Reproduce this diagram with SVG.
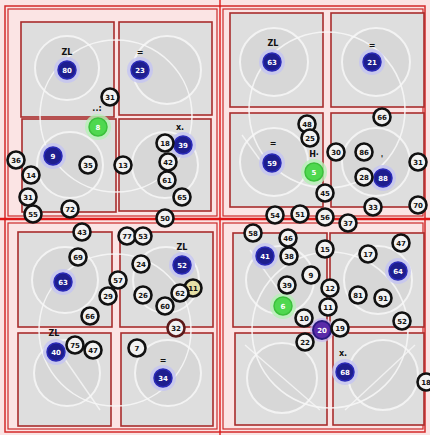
<svg xmlns="http://www.w3.org/2000/svg" width="430" height="435" viewBox="0 0 430 435">
<style>
.frame{fill:none;stroke:#d42a2a;stroke-width:1.5}
.quad{fill:none;stroke:#cc2a2a;stroke-width:1.2}
.cell{fill:#dedede;stroke:#a82c2c;stroke-width:1.6}
.ring{fill:#d7d7d7;stroke:#f6f6f6;stroke-width:2;opacity:.9}
.big{fill:none;stroke:#f8f8f8;stroke-width:1.6;opacity:.85}
.wl{fill:none;stroke:#f8f8f8;stroke-width:1.4;opacity:.8}
.b circle{fill:#f2f2f2;stroke:#111;stroke-width:2.6}
.bl .h{fill:#c4c4f2;opacity:.8}
.bl .c{fill:#1e1e8e;stroke:#2a2ab8;stroke-width:1.5}
.gr .h{fill:#b6f0b6;opacity:.8}
.gr .c{fill:#4fd84f;stroke:#3cc03c;stroke-width:1.5}
.pu .c{fill:#5a2aa8;stroke:#2a1a80;stroke-width:2}
.pu .h{fill:#c8b8f0;opacity:.7}
.b text{fill:#111;font:bold 7px "DejaVu Sans",sans-serif;text-anchor:middle}
.bl text,.gr text,.pu text{fill:#fff;font:bold 7px "DejaVu Sans",sans-serif;text-anchor:middle}
.lab{fill:#111;font:bold 8px "DejaVu Sans",sans-serif;text-anchor:middle}
</style>
<rect x="0" y="0" width="430" height="435" fill="#fbe4e4"/>
<rect class="frame" x="5" y="6" width="420" height="426"/>
<g id="quadrants">
<rect class="quad" x="8" y="9" width="209" height="207"/>
<rect class="quad" x="223" y="9" width="200" height="207"/>
<rect class="quad" x="8" y="223" width="209" height="206"/>
<rect class="quad" x="223" y="223" width="200" height="206"/>
<line x1="0" y1="219" x2="430" y2="219" stroke="#e01818" stroke-width="2.4"/>
<line x1="220" y1="0" x2="220" y2="435" stroke="#e01818" stroke-width="1.4"/>
</g>
<g id="cells">
<rect class="cell" x="21" y="22" width="93" height="95"/>
<rect class="cell" x="119" y="22" width="93" height="93"/>
<rect class="cell" x="22" y="119" width="94" height="93"/>
<rect class="cell" x="119" y="119" width="92" height="92"/>
<rect class="cell" x="230" y="13" width="93" height="94"/>
<rect class="cell" x="331" y="13" width="93" height="94"/>
<rect class="cell" x="230" y="113" width="93" height="94"/>
<rect class="cell" x="331" y="113" width="93" height="94"/>
<rect class="cell" x="18" y="232" width="94" height="95"/>
<rect class="cell" x="120" y="232" width="93" height="95"/>
<rect class="cell" x="18" y="333" width="93" height="93"/>
<rect class="cell" x="121" y="333" width="92" height="93"/>
<rect class="cell" x="233" y="233" width="94" height="94"/>
<rect class="cell" x="330" y="233" width="94" height="94"/>
<rect class="cell" x="235" y="333" width="92" height="92"/>
<rect class="cell" x="333" y="333" width="91" height="92"/>
</g>
<g id="rings">
<circle class="ring" cx="67" cy="68" r="32"/>
<circle class="ring" cx="167" cy="70" r="34"/>
<circle class="ring" cx="70" cy="165" r="33"/>
<circle class="ring" cx="165" cy="165" r="33"/>
<circle class="ring" cx="274" cy="62" r="34"/>
<circle class="ring" cx="376" cy="62" r="34"/>
<circle class="ring" cx="274" cy="162" r="34"/>
<circle class="ring" cx="376" cy="162" r="34"/>
<circle class="ring" cx="65" cy="280" r="33"/>
<circle class="ring" cx="166" cy="280" r="33"/>
<circle class="ring" cx="67" cy="373" r="33"/>
<circle class="ring" cx="168" cy="373" r="33"/>
<circle class="ring" cx="280" cy="280" r="34"/>
<circle class="ring" cx="378" cy="280" r="34"/>
<circle class="ring" cx="282" cy="378" r="35"/>
<circle class="ring" cx="383" cy="375" r="35"/>
<circle class="big" cx="116" cy="116" r="76"/>
<circle class="big" cx="327" cy="110" r="78"/>
<circle class="big" cx="115" cy="330" r="76"/>
<circle class="big" cx="330" cy="330" r="78"/>
<path class="wl" d="M245 345 L320 410"/>
<path class="wl" d="M415 345 L345 410"/>
<path class="wl" d="M55 345 L100 410"/>
<path class="wl" d="M250 250 L300 320"/>
<path class="wl" d="M242 135 L260 160"/>
</g>
<g id="connectors"></g>
<g id="labels">
<text class="lab" x="67" y="55">ZL</text>
<text class="lab" x="140" y="55">=</text>
<text class="lab" x="97" y="111">..:</text>
<text class="lab" x="180" y="130">x.</text>
<text class="lab" x="182" y="250">ZL</text>
<text class="lab" x="54" y="336">ZL</text>
<text class="lab" x="163" y="363">=</text>
<text class="lab" x="273" y="46">ZL</text>
<text class="lab" x="372" y="48">=</text>
<text class="lab" x="273" y="146">=</text>
<text class="lab" x="314" y="157">H·</text>
<text class="lab" x="382" y="162">'</text>
<text class="lab" x="343" y="356">x.</text>
</g>
<g id="blue">
<g id="u1" class="bl"><circle class="h" cx="67" cy="70" r="13"/><circle class="c" cx="67" cy="70" r="9"/><text x="67" y="73">80</text></g>
<g id="u2" class="bl"><circle class="h" cx="140" cy="70" r="13"/><circle class="c" cx="140" cy="70" r="9"/><text x="140" y="73">23</text></g>
<g id="u3" class="bl"><circle class="h" cx="53" cy="156" r="13"/><circle class="c" cx="53" cy="156" r="9"/><text x="53" y="159">9</text></g>
<g id="u4" class="bl"><circle class="h" cx="183" cy="145" r="13"/><circle class="c" cx="183" cy="145" r="9"/><text x="183" y="148">39</text></g>
<g id="u5" class="bl"><circle class="h" cx="63" cy="282" r="13"/><circle class="c" cx="63" cy="282" r="9"/><text x="63" y="285">63</text></g>
<g id="u6" class="bl"><circle class="h" cx="182" cy="265" r="13"/><circle class="c" cx="182" cy="265" r="9"/><text x="182" y="268">52</text></g>
<g id="u7" class="bl"><circle class="h" cx="56" cy="352" r="13"/><circle class="c" cx="56" cy="352" r="9"/><text x="56" y="355">40</text></g>
<g id="u8" class="bl"><circle class="h" cx="163" cy="378" r="13"/><circle class="c" cx="163" cy="378" r="9"/><text x="163" y="381">34</text></g>
<g id="u9" class="bl"><circle class="h" cx="272" cy="62" r="13"/><circle class="c" cx="272" cy="62" r="9"/><text x="272" y="65">63</text></g>
<g id="u10" class="bl"><circle class="h" cx="372" cy="62" r="13"/><circle class="c" cx="372" cy="62" r="9"/><text x="372" y="65">21</text></g>
<g id="u11" class="bl"><circle class="h" cx="272" cy="163" r="13"/><circle class="c" cx="272" cy="163" r="9"/><text x="272" y="166">59</text></g>
<g id="u12" class="bl"><circle class="h" cx="383" cy="178" r="13"/><circle class="c" cx="383" cy="178" r="9"/><text x="383" y="181">88</text></g>
<g id="u13" class="bl"><circle class="h" cx="265" cy="256" r="13"/><circle class="c" cx="265" cy="256" r="9"/><text x="265" y="259">41</text></g>
<g id="u14" class="bl"><circle class="h" cx="398" cy="271" r="13"/><circle class="c" cx="398" cy="271" r="9"/><text x="398" y="274">64</text></g>
<g id="u15" class="bl"><circle class="h" cx="345" cy="372" r="13"/><circle class="c" cx="345" cy="372" r="9"/><text x="345" y="375">68</text></g>
</g>
<g id="green">
<g id="g1" class="gr"><circle class="h" cx="98" cy="127" r="13"/><circle class="c" cx="98" cy="127" r="9"/><text x="98" y="130">8</text></g>
<g id="g2" class="gr"><circle class="h" cx="314" cy="172" r="13"/><circle class="c" cx="314" cy="172" r="9"/><text x="314" y="175">5</text></g>
<g id="g3" class="gr"><circle class="h" cx="283" cy="306" r="13"/><circle class="c" cx="283" cy="306" r="9"/><text x="283" y="309">6</text></g>
<g id="p1" class="pu"><circle class="h" cx="322" cy="330" r="12"/><circle class="c" cx="322" cy="330" r="9"/><text x="322" y="333">20</text></g>
</g>
<g id="black" class="b">
<g id="k1"><circle cx="110" cy="97" r="8.5"/><text x="110" y="100">31</text></g>
<g id="k2"><circle cx="88" cy="165" r="8.5"/><text x="88" y="168">35</text></g>
<g id="k3"><circle cx="123" cy="165" r="8.5"/><text x="123" y="168">13</text></g>
<g id="k4"><circle cx="16" cy="160" r="8.5"/><text x="16" y="163">36</text></g>
<g id="k5"><circle cx="31" cy="175" r="8.5"/><text x="31" y="178">14</text></g>
<g id="k6"><circle cx="28" cy="197" r="8.5"/><text x="28" y="200">31</text></g>
<g id="k7"><circle cx="33" cy="214" r="8.5"/><text x="33" y="217">55</text></g>
<g id="k8"><circle cx="70" cy="209" r="8.5"/><text x="70" y="212">72</text></g>
<g id="k9"><circle cx="165" cy="143" r="8.5"/><text x="165" y="146">18</text></g>
<g id="k10"><circle cx="168" cy="162" r="8.5"/><text x="168" y="165">42</text></g>
<g id="k11"><circle cx="167" cy="180" r="8.5"/><text x="167" y="183">61</text></g>
<g id="k12"><circle cx="182" cy="197" r="8.5"/><text x="182" y="200">65</text></g>
<g id="k13"><circle cx="165" cy="218" r="8.5"/><text x="165" y="221">50</text></g>
<g id="k14"><circle cx="82" cy="232" r="8.5"/><text x="82" y="235">43</text></g>
<g id="k15"><circle cx="127" cy="236" r="8.5"/><text x="127" y="239">77</text></g>
<g id="k16"><circle cx="143" cy="236" r="8.5"/><text x="143" y="239">53</text></g>
<g id="k17"><circle cx="78" cy="257" r="8.5"/><text x="78" y="260">69</text></g>
<g id="k18"><circle cx="141" cy="264" r="8.5"/><text x="141" y="267">24</text></g>
<g id="k19"><circle cx="118" cy="280" r="8.5"/><text x="118" y="283">57</text></g>
<g id="k20"><circle cx="108" cy="296" r="8.5"/><text x="108" y="299">29</text></g>
<g id="k21"><circle cx="143" cy="295" r="8.5"/><text x="143" y="298">26</text></g>
<g id="k22"><circle cx="193" cy="288" r="8.5" style="fill:#e6e0a6"/><text x="193" y="291">11</text></g>
<g id="k23"><circle cx="180" cy="293" r="8.5"/><text x="180" y="296">62</text></g>
<g id="k24"><circle cx="165" cy="306" r="8.5"/><text x="165" y="309">60</text></g>
<g id="k25"><circle cx="90" cy="316" r="8.5"/><text x="90" y="319">66</text></g>
<g id="k26"><circle cx="176" cy="328" r="8.5" style="stroke:#5a1a1a"/><text x="176" y="331">32</text></g>
<g id="k27"><circle cx="93" cy="350" r="8.5"/><text x="93" y="353">47</text></g>
<g id="k28"><circle cx="75" cy="345" r="8.5"/><text x="75" y="348">75</text></g>
<g id="k29"><circle cx="137" cy="348" r="8.5"/><text x="137" y="351">7</text></g>
<g id="k30"><circle cx="382" cy="117" r="8.5"/><text x="382" y="120">66</text></g>
<g id="k31"><circle cx="307" cy="124" r="8.5"/><text x="307" y="127">48</text></g>
<g id="k32"><circle cx="310" cy="138" r="8.5"/><text x="310" y="141">25</text></g>
<g id="k33"><circle cx="336" cy="152" r="8.5"/><text x="336" y="155">30</text></g>
<g id="k34"><circle cx="364" cy="152" r="8.5"/><text x="364" y="155">86</text></g>
<g id="k35"><circle cx="364" cy="177" r="8.5"/><text x="364" y="180">28</text></g>
<g id="k36"><circle cx="418" cy="162" r="8.5"/><text x="418" y="165">31</text></g>
<g id="k37"><circle cx="325" cy="193" r="8.5"/><text x="325" y="196">45</text></g>
<g id="k38"><circle cx="373" cy="207" r="8.5"/><text x="373" y="210">33</text></g>
<g id="k39"><circle cx="418" cy="205" r="8.5"/><text x="418" y="208">70</text></g>
<g id="k40"><circle cx="275" cy="215" r="8.5"/><text x="275" y="218">54</text></g>
<g id="k41"><circle cx="300" cy="214" r="8.5"/><text x="300" y="217">51</text></g>
<g id="k42"><circle cx="325" cy="217" r="8.5"/><text x="325" y="220">56</text></g>
<g id="k43"><circle cx="348" cy="223" r="8.5"/><text x="348" y="226">37</text></g>
<g id="k44"><circle cx="253" cy="233" r="8.5"/><text x="253" y="236">58</text></g>
<g id="k45"><circle cx="288" cy="238" r="8.5"/><text x="288" y="241">46</text></g>
<g id="k46"><circle cx="289" cy="256" r="8.5"/><text x="289" y="259">38</text></g>
<g id="k47"><circle cx="325" cy="249" r="8.5"/><text x="325" y="252">15</text></g>
<g id="k48"><circle cx="311" cy="275" r="8.5"/><text x="311" y="278">9</text></g>
<g id="k49"><circle cx="287" cy="285" r="8.5"/><text x="287" y="288">39</text></g>
<g id="k50"><circle cx="330" cy="288" r="8.5"/><text x="330" y="291">12</text></g>
<g id="k51"><circle cx="328" cy="307" r="8.5"/><text x="328" y="310">11</text></g>
<g id="k52"><circle cx="304" cy="318" r="8.5"/><text x="304" y="321">10</text></g>
<g id="k53"><circle cx="340" cy="328" r="8.5"/><text x="340" y="331">19</text></g>
<g id="k54"><circle cx="305" cy="342" r="8.5"/><text x="305" y="345">22</text></g>
<g id="k55"><circle cx="368" cy="254" r="8.5"/><text x="368" y="257">17</text></g>
<g id="k56"><circle cx="401" cy="243" r="8.5"/><text x="401" y="246">47</text></g>
<g id="k57"><circle cx="358" cy="295" r="8.5"/><text x="358" y="298">81</text></g>
<g id="k58"><circle cx="383" cy="298" r="8.5"/><text x="383" y="301">91</text></g>
<g id="k59"><circle cx="402" cy="321" r="8.5"/><text x="402" y="324">52</text></g>
<g id="k60"><circle cx="426" cy="382" r="8.5"/><text x="426" y="385">18</text></g>
</g>
</svg>
